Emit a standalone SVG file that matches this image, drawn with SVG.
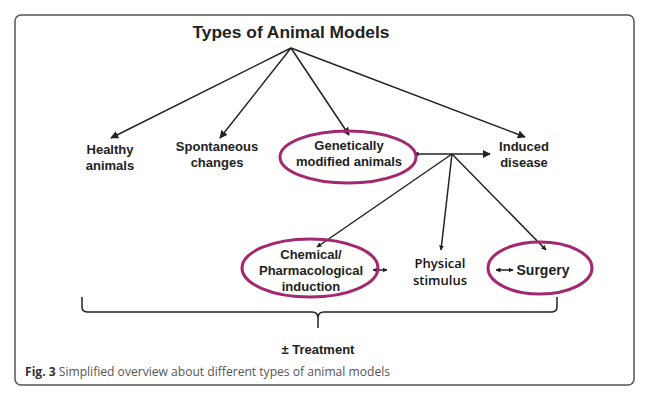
<svg xmlns="http://www.w3.org/2000/svg" width="654" height="416" viewBox="0 0 654 416">
<style>
.t{font-family:"Liberation Sans",Arial,sans-serif;font-weight:bold;font-size:13px;fill:#222;text-anchor:middle}
.c{font-family:"Open Sans","Noto Sans",sans-serif;font-weight:600;font-size:13px;fill:#111;text-anchor:middle}
.ln{stroke:#222;stroke-width:1.5;fill:none}
.ring{fill:none;stroke:#a3286f;stroke-width:3}
</style>
<defs>
<marker id="ah" viewBox="0 0 10 10" refX="9" refY="5" markerWidth="5" markerHeight="5" orient="auto-start-reverse" markerUnits="userSpaceOnUse">
<path d="M0,0 L10,5 L0,10 z" fill="#222"/>
</marker>
<marker id="ah2" viewBox="0 0 10 10" refX="9" refY="5" markerWidth="8" markerHeight="8" orient="auto-start-reverse" markerUnits="userSpaceOnUse">
<path d="M0,0 L10,5 L0,10 z" fill="#222"/>
</marker>
</defs>
<rect x="15" y="15" width="619" height="370" rx="6" fill="#fff" stroke="#555" stroke-width="1.5"/>
<g id="title"><text class="t" x="291" y="38" style="font-size:17px" textLength="197" lengthAdjust="spacingAndGlyphs">Types of Animal Models</text></g>
<g id="connectors">
<line class="ln" x1="291" y1="48" x2="111" y2="138" marker-end="url(#ah2)"/>
<line class="ln" x1="291" y1="48" x2="220" y2="138" marker-end="url(#ah2)"/>
<line class="ln" x1="291" y1="48" x2="349" y2="135" marker-end="url(#ah2)"/>
<line class="ln" x1="291" y1="48" x2="525" y2="137" marker-end="url(#ah2)"/>
<line class="ln" x1="414" y1="154" x2="490" y2="154" marker-start="url(#ah)" marker-end="url(#ah2)"/>
<line class="ln" x1="452" y1="154" x2="317" y2="247" marker-end="url(#ah)"/>
<line class="ln" x1="452" y1="154" x2="441" y2="250" marker-end="url(#ah)"/>
<line class="ln" x1="452" y1="154" x2="546" y2="250" marker-end="url(#ah)"/>
<line class="ln" x1="373" y1="270" x2="387" y2="270" marker-start="url(#ah)" marker-end="url(#ah)"/>
<line class="ln" x1="496" y1="270" x2="513" y2="270" marker-start="url(#ah)" marker-end="url(#ah)"/>
<path class="ln" d="M82,297 V307 Q82,312 88,312 H312 Q318,312 318,318 V328 M318,318 Q318,312 324,312 H551 Q557,312 557,307 V297"/>
</g>
<g id="healthy"><text class="t" x="110" y="154">Healthy</text><text class="t" x="110" y="170">animals</text></g>
<g id="spontaneous"><text class="t" x="217" y="151">Spontaneous</text><text class="t" x="217" y="167">changes</text></g>
<g id="genetic"><ellipse class="ring" cx="348" cy="157" rx="68" ry="26"/><text class="t" x="349" y="150">Genetically</text><text class="t" x="349" y="166">modified animals</text></g>
<g id="induced"><text class="t" x="524" y="151">Induced</text><text class="t" x="524" y="167">disease</text></g>
<g id="chemical"><ellipse class="ring" cx="310" cy="268" rx="68" ry="29"/><text class="t" x="311" y="259">Chemical/</text><text class="t" x="311" y="275">Pharmacological</text><text class="t" x="311" y="291">induction</text></g>
<g id="physical"><text class="c" x="440" y="268">Physical</text><text class="c" x="440" y="285">stimulus</text></g>
<g id="surgery"><ellipse class="ring" cx="540" cy="268" rx="52" ry="26"/><text class="t" x="543" y="275" style="font-size:14px">Surgery</text></g>
<g id="treatment"><text class="t" x="318" y="354">± Treatment</text></g>
<g id="caption"><text x="25" y="376" textLength="365" lengthAdjust="spacingAndGlyphs" style="font-family:'Open Sans','Noto Sans',sans-serif;font-size:12.5px;fill:#555"><tspan font-weight="bold" fill="#333">Fig. 3</tspan> Simplified overview about different types of animal models</text></g>
</svg>
